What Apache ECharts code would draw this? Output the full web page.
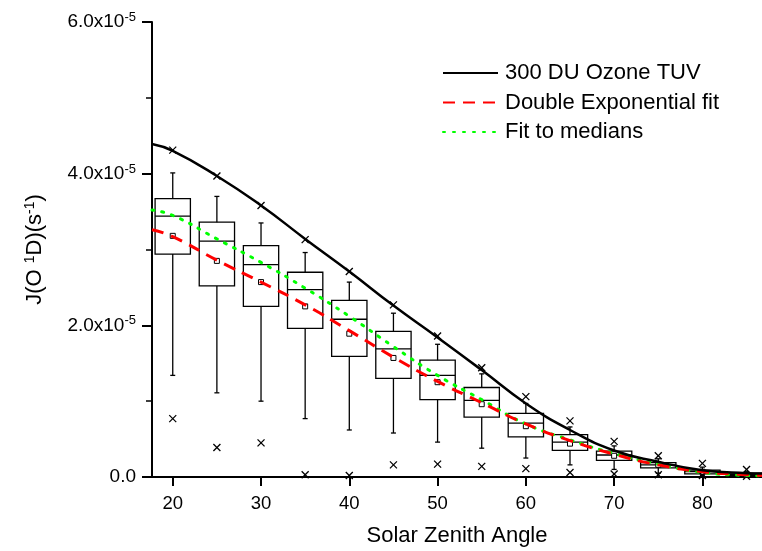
<!DOCTYPE html>
<html lang="en">
<head>
    <meta charset="UTF-8">
    <title>J(O1D) vs Solar Zenith Angle</title>
    <script src="https://cdn.jsdelivr.net/npm/echarts@6/dist/echarts.min.js"></script>
    <style>
        html, body { margin: 0; padding: 0; background: #fff; }
        #chart { width: 762px; height: 551px; }
    </style>
</head>
<body>
    <div id="chart"></div>
    <script>
        // box statistics per solar zenith angle bin (units of 1e-5 s^-1)
        const sza = [20, 25, 30, 35, 40, 45, 50, 55, 60, 65, 70, 75, 80, 85];
        const whiskerHigh = [4.01, 3.70, 3.35, 2.96, 2.57, 2.16, 1.75, 1.36, 0.97, 0.66, 0.41, 0.24, 0.13, 0.07];
        const q3 = [3.67, 3.36, 3.05, 2.70, 2.33, 1.92, 1.54, 1.18, 0.84, 0.56, 0.34, 0.19, 0.09, 0.05];
        const median = [3.44, 3.11, 2.80, 2.47, 2.08, 1.69, 1.34, 1.01, 0.71, 0.46, 0.29, 0.16, 0.07, 0.035];
        const q1 = [2.94, 2.52, 2.25, 1.96, 1.59, 1.30, 1.02, 0.79, 0.53, 0.35, 0.22, 0.12, 0.04, 0.02];
        const whiskerLow = [1.34, 1.11, 1.00, 0.77, 0.62, 0.58, 0.46, 0.38, 0.25, 0.16, 0.10, 0.05, 0.02, 0.01];
        const mean = [3.18, 2.85, 2.57, 2.25, 1.89, 1.57, 1.25, 0.96, 0.67, 0.44, 0.28, 0.16, 0.07, 0.035];
        const extremeHigh = [4.31, 3.97, 3.58, 3.13, 2.71, 2.27, 1.86, 1.44, 1.06, 0.74, 0.47, 0.28, 0.18, 0.10];
        const extremeLow = [0.77, 0.39, 0.45, 0.03, 0.02, 0.16, 0.17, 0.14, 0.11, 0.06, 0.04, 0.03, 0.02, 0.01];

        // curves
        const curveSza = [17.65, 20, 25, 30, 35, 40, 45, 50, 55, 60, 65, 70, 75, 80, 85, 86.75];
        const tuv = [4.39, 4.30, 3.97, 3.58, 3.14, 2.71, 2.26, 1.84, 1.41, 0.97, 0.62, 0.35, 0.20, 0.09, 0.05, 0.045];
        const doubleExpFit = [3.26, 3.17, 2.86, 2.57, 2.27, 1.93, 1.58, 1.26, 0.98, 0.70, 0.48, 0.30, 0.16, 0.07, 0.03, 0.02];
        const medianFit = [3.52, 3.45, 3.14, 2.83, 2.49, 2.12, 1.72, 1.34, 1.02, 0.70, 0.49, 0.31, 0.17, 0.06, 0.02, 0.015];

        const xTicks = [20, 30, 40, 50, 60, 70, 80];
        const scale = 1e-5;
        const font = '"Liberation Sans", Arial, sans-serif';

        const boxData = sza.map((s, i) => [s, whiskerLow[i], q1[i], median[i], q3[i], whiskerHigh[i],
            mean[i], extremeLow[i], extremeHigh[i]].map((v, k) => k === 0 ? v : v * scale));
        const toPairs = vals => curveSza.map((s, i) => [s, vals[i] * scale]);

        const stroke = { stroke: '#000', lineWidth: 1.3, fill: 'none' };

        function renderBox(params, api) {
            const x = api.value(0);
            const half = api.size([4, 0])[0] / 2;
            const p = k => api.coord([x, api.value(k)]);
            const lo = p(1), b = p(2), m = p(3), t = p(4), hi = p(5), mn = p(6), xl = p(7), xh = p(8);
            const cx = m[0];
            const cap = 2.5, xs = 3.5, sq = 2.5;
            const line = (x1, y1, x2, y2) => ({ type: 'line', shape: { x1, y1, x2, y2 }, style: stroke });
            const cross = pt => [
                line(pt[0] - xs, pt[1] - xs, pt[0] + xs, pt[1] + xs),
                line(pt[0] - xs, pt[1] + xs, pt[0] + xs, pt[1] - xs)
            ];
            return {
                type: 'group',
                children: [
                    { type: 'rect', shape: { x: cx - half, y: t[1], width: half * 2, height: b[1] - t[1] }, style: stroke },
                    line(cx - half, m[1], cx + half, m[1]),
                    line(cx, t[1], cx, hi[1]),
                    line(cx, b[1], cx, lo[1]),
                    line(cx - cap, hi[1], cx + cap, hi[1]),
                    line(cx - cap, lo[1], cx + cap, lo[1]),
                    { type: 'rect', shape: { x: cx - sq, y: mn[1] - sq, width: sq * 2, height: sq * 2 },
                      style: { stroke: '#000', lineWidth: 1, fill: '#fff' } },
                    ...cross(xl),
                    ...cross(xh)
                ]
            };
        }

        const chart = echarts.init(document.getElementById('chart'), null, { renderer: 'canvas' });
        chart.setOption({
            animation: false,
            backgroundColor: '#fff',
            textStyle: { fontFamily: font, color: '#000' },
            grid: { left: 152, right: 0, top: 22, bottom: 74, outerBoundsMode: 'none', containLabel: false },
            legend: {
                orient: 'vertical',
                left: 442,
                top: 62,
                padding: 0,
                itemWidth: 55,
                itemHeight: 14,
                itemGap: 7.5,
                itemStyle: { opacity: 0 },
                textStyle: { fontSize: 22, color: '#000', fontFamily: font, padding: [0, 0, 0, 2] },
                data: ['300 DU Ozone TUV', 'Double Exponential fit', 'Fit to medians']
            },
            xAxis: {
                type: 'value',
                min: 17.65,
                max: 86.75,
                name: 'Solar Zenith Angle',
                nameLocation: 'middle',
                nameGap: 48,
                nameTextStyle: { fontSize: 22, color: '#000', fontFamily: font },
                splitLine: { show: false },
                axisLine: { show: true, onZero: false, lineStyle: { color: '#000', width: 2 } },
                axisTick: { show: true, length: 9, lineStyle: { color: '#000', width: 2 }, customValues: xTicks },
                axisLabel: { fontSize: 18.5, color: '#000', margin: 17, customValues: xTicks, fontFamily: font }
            },
            yAxis: {
                type: 'value',
                min: 0,
                max: 6 * scale,
                interval: 2 * scale,
                name: 'J(O {sup|1}D)(s{sup|-1})',
                nameLocation: 'middle',
                nameRotate: 90,
                nameGap: 105,
                nameTextStyle: {
                    fontSize: 22, color: '#000', fontFamily: font,
                    rich: { sup: { fontSize: 14, color: '#000', fontFamily: font, padding: [0, 0, 10, 0] } }
                },
                splitLine: { show: false },
                axisLine: { show: true, onZero: false, lineStyle: { color: '#000', width: 2 } },
                axisTick: { show: true, length: 10, lineStyle: { color: '#000', width: 2 } },
                minorTick: { show: true, splitNumber: 2, length: 6, lineStyle: { color: '#000', width: 1.5 } },
                axisLabel: {
                    fontSize: 19, color: '#000', margin: 16, fontFamily: font,
                    formatter: v => v === 0 ? '0.0' : (v / scale).toFixed(1) + 'x10{sup|-5}',
                    rich: { sup: { fontSize: 13, color: '#000', fontFamily: font, padding: [0, 0, 9, 0] } }
                }
            },
            series: [
                {
                    type: 'custom',
                    name: 'boxes',
                    renderItem: renderBox,
                    encode: { x: 0, y: [1, 2, 3, 4, 5, 6, 7, 8] },
                    data: boxData,
                    clip: false,
                    z: 1
                },
                {
                    type: 'line',
                    name: 'Fit to medians',
                    data: toPairs(medianFit),
                    smooth: true,
                    symbol: 'none',
                    lineStyle: { color: '#00ff00', width: 3, type: [2, 8], cap: 'round' },
                    itemStyle: { color: '#00ff00' },
                    z: 3
                },
                {
                    type: 'line',
                    name: 'Double Exponential fit',
                    data: toPairs(doubleExpFit),
                    smooth: true,
                    symbol: 'none',
                    lineStyle: { color: '#ff0000', width: 3, type: [12, 8] },
                    itemStyle: { color: '#ff0000' },
                    z: 4
                },
                {
                    type: 'line',
                    name: '300 DU Ozone TUV',
                    data: toPairs(tuv),
                    smooth: true,
                    symbol: 'none',
                    lineStyle: { color: '#000', width: 2.5 },
                    itemStyle: { color: '#000' },
                    z: 5
                }
            ]
        });
    </script>
</body>
</html>
